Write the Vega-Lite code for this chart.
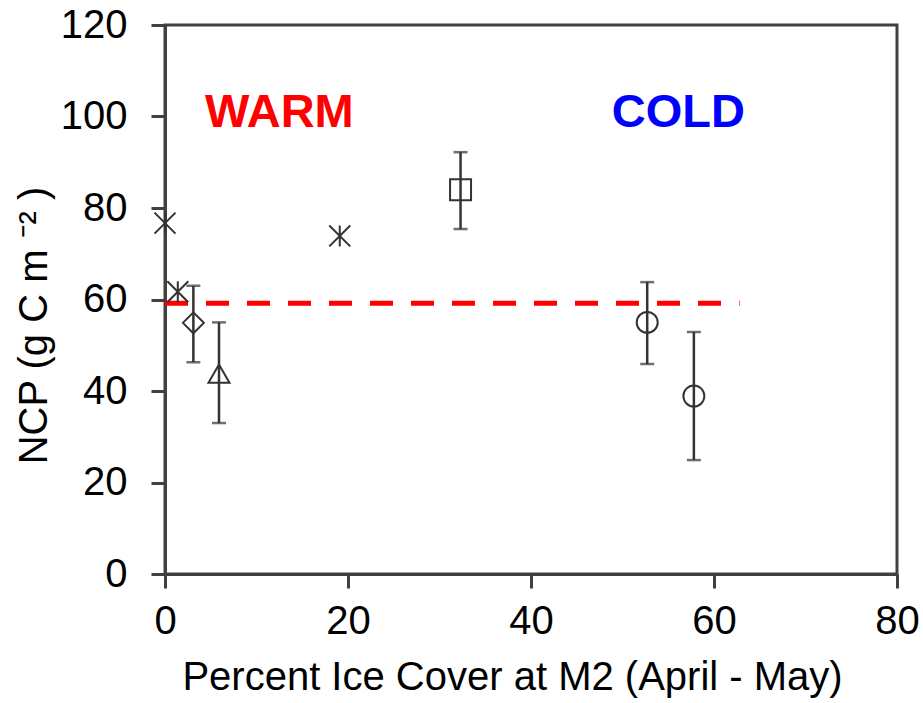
{
  "$schema": "https://vega.github.io/schema/vega-lite/v6.json",
  "width": 732,
  "height": 549,
  "autosize": "none",
  "padding": {"left": 165, "top": 25, "right": 26, "bottom": 129},
  "background": "white",
  "config": {
    "view": {"stroke": "#404040", "strokeWidth": 3},
    "axis": {
      "grid": false,
      "domainColor": "#404040",
      "domainWidth": 3,
      "tickColor": "#404040",
      "tickWidth": 3,
      "tickSize": 14,
      "labelFont": "Liberation Sans",
      "labelFontSize": 40,
      "labelColor": "black",
      "labelFlush": false,
      "labelOverlap": false,
      "titleFont": "Liberation Sans",
      "titleFontSize": 40,
      "titleFontWeight": "normal",
      "titleColor": "black"
    }
  },
  "datasets": {
    "obs": [
      {"ice": 0, "ncp": 76.7, "sym": "asterisk"},
      {"ice": 1.4, "ncp": 61.7, "sym": "asterisk"},
      {"ice": 3.1, "ncp": 54.9, "lo": 46.3, "hi": 63.0, "sym": "diamond"},
      {"ice": 5.9, "ncp": 43.8, "lo": 33.0, "hi": 55.0, "sym": "triangle"},
      {"ice": 19.1, "ncp": 73.9, "sym": "asterisk"},
      {"ice": 32.3, "ncp": 84.0, "lo": 75.4, "hi": 92.2, "sym": "square"},
      {"ice": 52.7, "ncp": 55.0, "lo": 45.9, "hi": 63.8, "sym": "circle"},
      {"ice": 57.8, "ncp": 38.9, "lo": 24.9, "hi": 52.9, "sym": "circle"}
    ],
    "mean": [{"ice_start": 0, "ice_end": 62.8, "ncp": 59.2}],
    "labels": [
      {"ice": 12.5, "ncp": 100.8, "label": "WARM", "regime": "warm"},
      {"ice": 56.1, "ncp": 100.8, "label": "COLD", "regime": "cold"}
    ]
  },
  "layer": [
    {
      "data": {"name": "obs"},
      "mark": {"type": "rule", "color": "#333333", "strokeWidth": 2.5},
      "encoding": {
        "x": {"field": "ice", "type": "quantitative"},
        "y": {"field": "lo", "type": "quantitative"},
        "y2": {"field": "hi"}
      }
    },
    {
      "data": {"name": "obs"},
      "mark": {"type": "tick", "orient": "horizontal", "color": "#333333", "size": 14, "thickness": 2.5},
      "encoding": {
        "x": {"field": "ice", "type": "quantitative"},
        "y": {"field": "lo", "type": "quantitative"}
      }
    },
    {
      "data": {"name": "obs"},
      "mark": {"type": "tick", "orient": "horizontal", "color": "#333333", "size": 14, "thickness": 2.5},
      "encoding": {
        "x": {"field": "ice", "type": "quantitative"},
        "y": {"field": "hi", "type": "quantitative"}
      }
    },
    {
      "data": {"name": "mean"},
      "mark": {"type": "rule", "color": "#FF0000", "strokeWidth": 5, "strokeDash": [23, 18]},
      "encoding": {
        "x": {"field": "ice_start", "type": "quantitative"},
        "x2": {"field": "ice_end"},
        "y": {"field": "ncp", "type": "quantitative"}
      }
    },
    {
      "data": {"name": "obs"},
      "mark": {"type": "point", "filled": false, "stroke": "#333333", "strokeWidth": 2, "size": 440, "opacity": 1},
      "encoding": {
        "x": {
          "field": "ice", "type": "quantitative",
          "scale": {"domain": [0, 80], "nice": false},
          "axis": {"values": [0, 20, 40, 60, 80], "title": "Percent Ice Cover at M2 (April - May)", "labelPadding": 13, "titlePadding": 16, "titleX": 347, "titleAlign": "center"}
        },
        "y": {
          "field": "ncp", "type": "quantitative",
          "scale": {"domain": [0, 120], "nice": false},
          "axis": {"values": [0, 20, 40, 60, 80, 100, 120], "title": "NCP (g C m  ⁻²  )", "labelPadding": 24, "titlePadding": 6, "titleY": 300, "titleAlign": "center"}
        },
        "shape": {
          "field": "sym", "type": "nominal", "legend": null,
          "scale": {
            "domain": ["asterisk", "diamond", "triangle", "square", "circle"],
            "range": ["M-1,-1L1,1M-1,1L1,-1M0,-1L0,1", "diamond", "triangle-up", "square", "circle"]
          }
        }
      }
    },
    {
      "data": {"name": "labels"},
      "mark": {"type": "text", "font": "Liberation Sans", "fontWeight": "bold", "fontSize": 47, "baseline": "middle", "align": "center"},
      "encoding": {
        "x": {"field": "ice", "type": "quantitative"},
        "y": {"field": "ncp", "type": "quantitative"},
        "text": {"field": "label"},
        "color": {
          "field": "regime", "type": "nominal", "legend": null,
          "scale": {"domain": ["warm", "cold"], "range": ["#FF0000", "#0000FF"]}
        }
      }
    }
  ]
}
